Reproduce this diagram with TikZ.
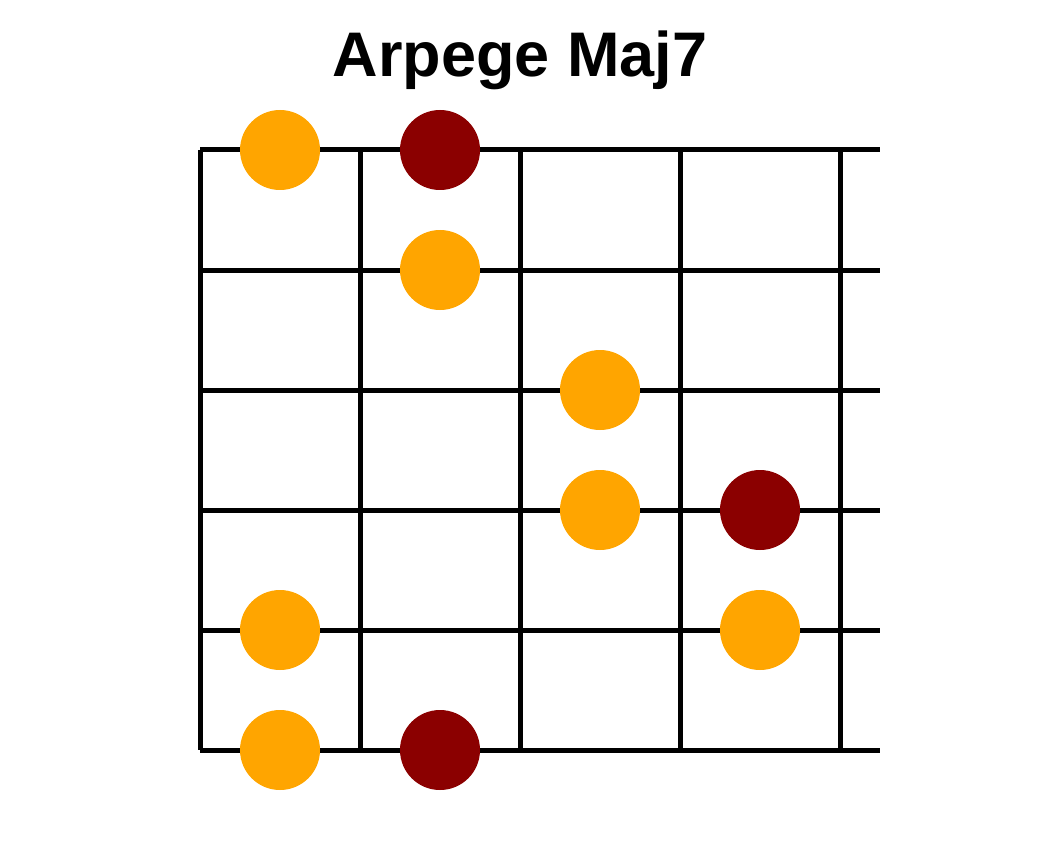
\documentclass[tikz,border=0pt]{standalone}
\usepackage{fontspec}
\setmainfont{Liberation Sans}
\definecolor{rootred}{HTML}{8B0000}
\definecolor{noteorange}{HTML}{FFA500}
\tikzset{
  fret/.style={line width=5pt, black},
  note/.style={circle, fill=noteorange, minimum size=80pt, inner sep=0pt},
  root/.style={circle, fill=rootred, minimum size=80pt, inner sep=0pt}
}
\begin{document}
\begin{tikzpicture}[x=1pt,y=-1pt]
\useasboundingbox (0,0) rectangle (1040,850);
\node[font=\fontsize{63}{75}\selectfont\bfseries, anchor=base] (title) at (520,77) {Arpege Maj7};
% strings
\foreach \y in {150,270,390,510,630,750}
  \draw[fret] (200,\y) -- (880,\y);
% frets
\foreach \x in {200,360,520,680,840}
  \draw[fret] (\x,150) -- (\x,750);
% notes
\node[note] (n1) at (280,150) {};
\node[root] (r1) at (440,150) {};
\node[note] (n2) at (440,270) {};
\node[note] (n3) at (600,390) {};
\node[note] (n4) at (600,510) {};
\node[root] (r2) at (760,510) {};
\node[note] (n5) at (280,630) {};
\node[note] (n6) at (760,630) {};
\node[note] (n7) at (280,750) {};
\node[root] (r3) at (440,750) {};
\end{tikzpicture}
\end{document}
